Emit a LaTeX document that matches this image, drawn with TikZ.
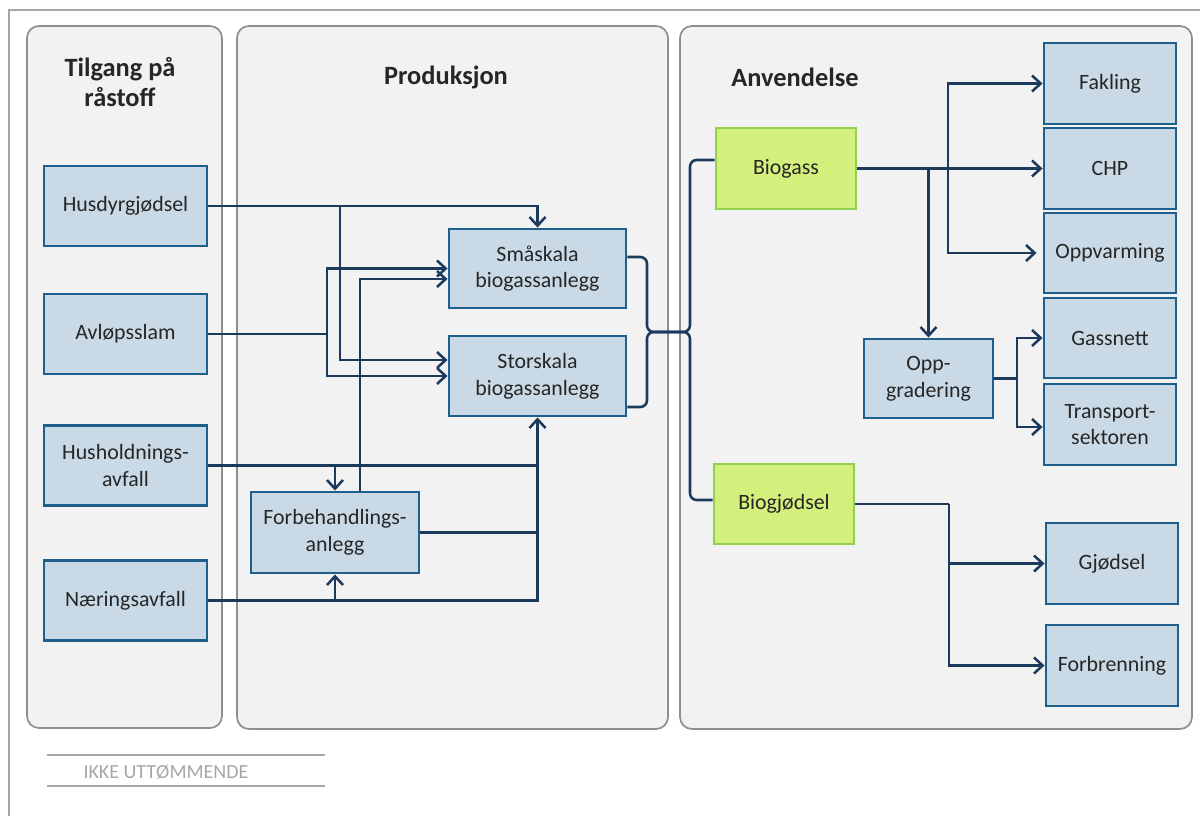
\documentclass[tikz,border=0pt]{standalone}
\usepackage{fontspec}
\setmainfont{Carlito}
\usetikzlibrary{arrows.meta,calc}
\definecolor{panelfill}{HTML}{F2F2F2}
\definecolor{panelline}{HTML}{8F8F8F}
\definecolor{boxfill}{HTML}{C9DAE6}
\definecolor{boxline}{HTML}{1F5F8C}
\definecolor{greenfill}{HTML}{D4F07C}
\definecolor{greenline}{HTML}{92D050}
\definecolor{conn}{HTML}{1B3A5C}
\definecolor{txt}{HTML}{262626}
\definecolor{lightgray}{HTML}{A6A6A6}
\tikzset{
  panel/.style={draw=panelline, fill=panelfill, line width=1.3pt, rounded corners=9pt},
  ptitle/.style={font=\fontsize{19.8pt}{22.5pt}\selectfont\bfseries, text=txt, align=center},
  bbox/.style={draw=boxline, fill=boxfill, line width=2.2pt, font=\fontsize{16.4pt}{20pt}\selectfont, text=txt, align=center, inner sep=0pt},
  gbox/.style={draw=greenline, fill=greenfill, line width=2.2pt, font=\fontsize{16.4pt}{20pt}\selectfont, text=txt, align=center, inner sep=0pt},
  ln/.style={draw=conn, line width=1.9pt},
  arr/.style={ln, -{Straight Barb[length=6.5pt,width=12pt,line width=1.9pt]}},
  brace/.style={ln, rounded corners=5pt},
  frameline/.style={draw=lightgray, line width=1.5pt},
}
\begin{document}
\begin{tikzpicture}[x=0.75pt,y=-0.75pt]
\useasboundingbox (0,0) rectangle (1200,816);
% outer frame
\draw[frameline] (9,816) -- (9,10) -- (1200,10);
% panels
\draw[panel] (27,26) rectangle (222,728);
\draw[panel] (237,26) rectangle (668,729);
\draw[panel] (680,26) rectangle (1192,729);
\node[ptitle] (t1) at (120,82) {Tilgang på\\råstoff};
\node[ptitle] (t2) at (446,77) {Produksjon};
\node[ptitle] (t3) at (795,77) {Anvendelse};
% left boxes
\node[bbox, minimum width=122.25pt, minimum height=60pt] (hus) at (125.5,206) {Husdyrgjødsel};
\node[bbox, minimum width=122.25pt, minimum height=60pt] (avl) at (125.5,334) {Avløpsslam};
\node[bbox, minimum width=122.25pt, minimum height=60pt] (hush) at (125.5,465.5) {Husholdnings-\\avfall};
\node[bbox, minimum width=122.25pt, minimum height=60pt] (nae) at (125.5,600.5) {Næringsavfall};
% middle boxes
\node[bbox, minimum width=132.75pt, minimum height=59.25pt] (sma) at (537.5,268.5) {Småskala\\biogassanlegg};
\node[bbox, minimum width=132.75pt, minimum height=60pt] (sto) at (537.5,376) {Storskala\\biogassanlegg};
\node[bbox, minimum width=126pt, minimum height=60.75pt] (forb) at (335,532.5) {Forbehandlings-\\anlegg};
% right boxes
\node[gbox, minimum width=105pt, minimum height=60.75pt] (biog) at (786,168.5) {Biogass};
\node[gbox, minimum width=105pt, minimum height=60pt] (biogj) at (784,504) {Biogjødsel};
\node[bbox, minimum width=99pt, minimum height=60.75pt] (fak) at (1110,83.5) {Fakling};
\node[bbox, minimum width=99pt, minimum height=60.75pt] (chp) at (1110,168.5) {CHP};
\node[bbox, minimum width=99pt, minimum height=60pt] (oppv) at (1110,253) {Oppvarming};
\node[bbox, minimum width=99pt, minimum height=60pt] (gas) at (1110,338) {Gassnett};
\node[bbox, minimum width=99pt, minimum height=60.75pt] (tra) at (1110,424.5) {Transport-\\sektoren};
\node[bbox, minimum width=96.75pt, minimum height=59.25pt] (opp) at (928.5,378.5) {Opp-\\gradering};
\node[bbox, minimum width=99pt, minimum height=60.75pt] (gjo) at (1112,563.5) {Gjødsel};
\node[bbox, minimum width=99pt, minimum height=60.75pt] (forbr) at (1112,665.5) {Forbrenning};
% connectors: raw materials to production
\coordinate (j1) at (340,206);
\draw[arr] (hus.east) -| (sma.north);
\draw[arr] (j1) |- ($(sto.west)+(0,-16)$);
\coordinate (j2) at (327,334);
\draw[ln] (avl.east) -- (j2);
\draw[arr] (j2) |- (sma.west);
\draw[arr] (j2) |- (sto.west);
\draw[arr] ($(forb.north)+(25,0)$) |- ($(sma.west)+(0,10.5)$);
\coordinate (j3) at (forb.north |- hush.east);
\draw[arr] (hush.east) -| (sto.south);
\draw[arr] (j3) -- (forb.north);
\coordinate (j4) at (forb.south |- nae.east);
\draw[ln] (nae.east) -| (hush.east -| sto.south);
\draw[arr] (j4) -- (forb.south);
\draw[ln] (forb.east) -- (forb.east -| sto.south);
% production to products
\coordinate (b1) at (647,332);
\coordinate (b2) at (690,332);
\draw[brace] ($(sma.east)+(0,-11.5)$) -| (b1) -- (b2) |- ($(biog.west)+(0,-8.5)$);
\draw[brace] ($(sto.east)+(0,31)$) -| (b1) -- (b2) |- ($(biogj.west)+(0,-4)$);
% biogas usage
\coordinate (k1) at (opp.north |- biog.east);
\coordinate (k2) at (948,168.5);
\draw[arr] (biog.east) -- (chp.west);
\draw[arr] (k1) -- (opp.north);
\draw[arr] (k2) |- (fak.west);
\draw[arr] (k2) |- ($(oppv.west)+(-6,0)$);
\coordinate (k3) at (1017,378.5);
\draw[ln] (opp.east) -- (k3);
\draw[arr] (k3) |- (gas.west);
\draw[arr] (k3) |- ($(tra.west)+(0,2.5)$);
% digestate usage
\coordinate (k4) at (949,504);
\draw[ln] (biogj.east) -- (k4);
\draw[arr] (k4) |- (gjo.west);
\draw[arr] (k4) |- (forbr.west);
% footer
\draw[frameline] (47,755) -- (325,755);
\draw[frameline] (47,786) -- (325,786);
\node[text=lightgray, font=\fontsize{15pt}{17pt}\selectfont] (note) at (166,772) {IKKE UTTØMMENDE};
\end{tikzpicture}
\end{document}
